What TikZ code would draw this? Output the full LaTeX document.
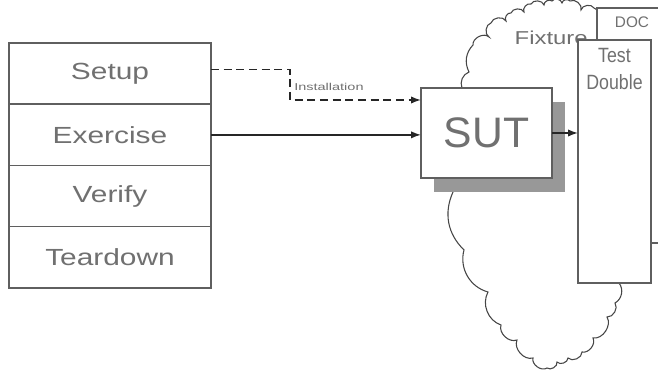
\documentclass[tikz,border=0pt]{standalone}
\usepackage{fontspec}
\setmainfont{Liberation Sans}
\newfontfamily\widesans[FakeStretch=1.28]{Liberation Sans}
\newfontfamily\notesans[FakeStretch=1.45]{Liberation Sans}
\newfontfamily\tallsans[FakeStretch=0.86]{Liberation Sans}
\usetikzlibrary{positioning, arrows.meta, calc, shadows}
\definecolor{LineGray}{RGB}{95,95,95}
\definecolor{TextGray}{RGB}{112,112,112}
\definecolor{ShadowGray}{RGB}{152,152,152}
\definecolor{CloudGray}{RGB}{70,70,70}

\begin{document}
\begin{tikzpicture}[x=0.75pt, y=-0.75pt,
    phase/.style={draw=LineGray, line width=1.1pt, fill=white, minimum width=151.5pt,
      minimum height=45.94pt, outer sep=0pt, text=TextGray,
      font=\widesans\fontsize{17.5}{20}\selectfont},
    box/.style={draw=LineGray, line width=1.1pt, fill=white, outer sep=0pt},
    flow/.style={-{Latex[length=7.5pt, width=5.5pt]}, line width=1.1pt, black!85},
    puff/.style={draw=CloudGray, line width=0.8pt}]
  \useasboundingbox (0,0) rectangle (658,377);
  \clip (0,0) rectangle (658,377);

  % fixture cloud, mostly hidden behind the boxes
  \draw[puff] (462,88) to[bend left=45] (469,72) to[bend left=35] (473,45)
    to[bend left=70] (489,37) to[bend left=70] (491,23) to[bend left=70] (506,21)
    to[bend left=70] (511,13) to[bend left=70] (524,12) to[bend left=70] (531,4)
    to[bend left=70] (544,5) to[bend left=70] (552,1) to[bend left=70] (562,3)
    to[bend left=70] (570,1) to[bend left=70] (581,10) to[bend left=70] (594,8)
    to[bend left=60] (599,24) -- (619,283)
    to[bend left=50] (615,303) to[bend left=65] (607,317) to[bend left=65] (593,338)
    to[bend left=65] (582,352) to[bend left=70] (568,358) to[bend left=70] (557,362)
    to[bend left=70] (547,368) to[bend left=70] (533,358) to[bend left=65] (517,340)
    to[bend left=65] (501,325) to[bend left=50] (488,292) to[bend left=45] (464,250)
    to[bend left=35] (453,192) -- cycle;
  \node[anchor=base west, text=TextGray, font=\widesans\fontsize{14}{17}\selectfont]
    (fixturelabel) at (510,45) {Fixture};

  % depended-on component and its test double
  \node[box, anchor=north west, minimum width=60.75pt, minimum height=176.25pt]
    (doc) at (597,8) {};
  \node[text=TextGray, font=\fontsize{11.5}{14}\selectfont] (doclabel) at (632,22) {DOC};
  \node[box, minimum width=54.75pt, minimum height=182.25pt] (double) at (614.5,161.5) {};
  \node[below=3pt of double.north, align=center, text=TextGray,
    font=\tallsans\fontsize{15.5}{20}\selectfont] (doubletext) {Test\\Double};

  % system under test
  \node[box, minimum width=98.25pt, minimum height=67.5pt, text=TextGray,
    font=\fontsize{32}{36}\selectfont,
    drop shadow={shadow xshift=9.75pt, shadow yshift=-10.5pt, fill=ShadowGray, opacity=1}]
    (sut) at (486.5,133) {SUT};

  % four phases
  \node[phase] (setup) at (110,73.6) {Setup};
  \node[phase, below=0pt of setup] (exercise) {Exercise};
  \node[phase, below=0pt of exercise] (verify) {Verify};
  \node[phase, below=0pt of verify] (teardown) {Teardown};

  \draw[flow, dashed, dash pattern=on 6pt off 3.5pt] ($(setup.east)+(0,-4)$) -- ++(79,0)
    coordinate (kink) |- ($(sut.west)+(0,-33)$);
  \node[anchor=west, inner sep=0pt, text=TextGray, font=\notesans\fontsize{7.5}{9}\selectfont]
    (installnote) at ($(kink)+(4,17)$) {Installation};
  \draw[flow] (exercise.east) -- (exercise.east -| sut.west);
  \draw[flow] (sut.east) -- (sut.east -| double.west);
\end{tikzpicture}
\end{document}
